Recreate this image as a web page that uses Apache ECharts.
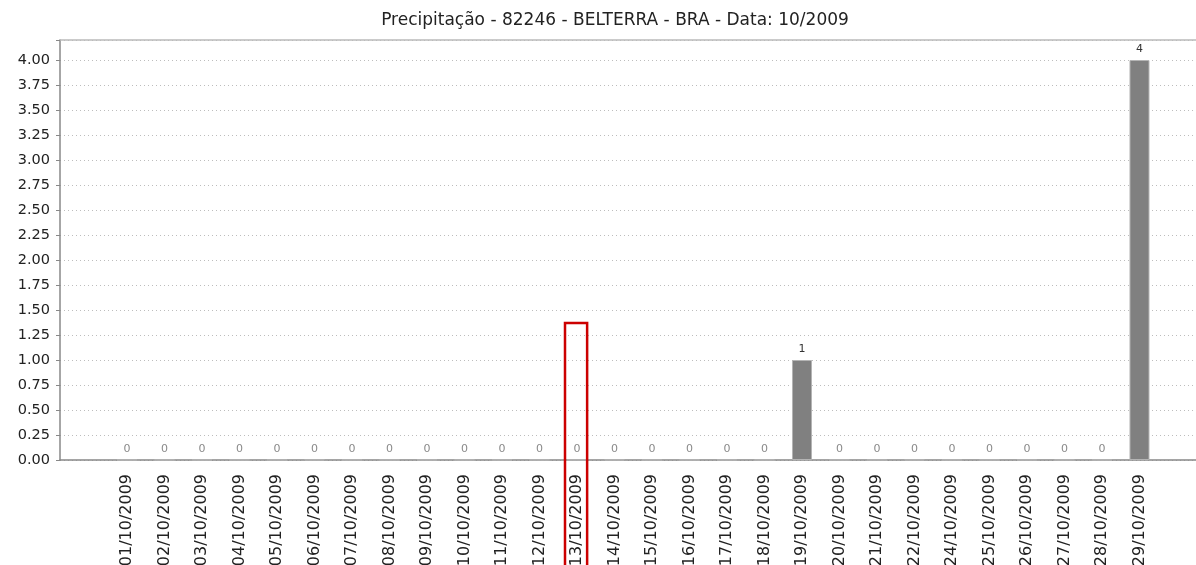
<!DOCTYPE html>
<html>
<head>
<meta charset="utf-8">
<script src="https://cdn.jsdelivr.net/npm/echarts@6/dist/echarts.min.js"></script>
<style>
  html, body { margin: 0; padding: 0; background: #fff; }
  #chart { width: 1196px; height: 565px; }
</style>
</head>
<body>
<div id="chart"></div>
<script>
// dias do mês (23/10 não aparece no original)
const dias = [
  '01/10/2009', '02/10/2009', '03/10/2009', '04/10/2009', '05/10/2009', '06/10/2009', '07/10/2009',
  '08/10/2009', '09/10/2009', '10/10/2009', '11/10/2009', '12/10/2009', '13/10/2009', '14/10/2009',
  '15/10/2009', '16/10/2009', '17/10/2009', '18/10/2009', '19/10/2009', '20/10/2009', '21/10/2009',
  '22/10/2009', '24/10/2009', '25/10/2009', '26/10/2009', '27/10/2009', '28/10/2009', '29/10/2009'
]
const precipitacao = [0, 0, 0, 0, 0, 0, 0, 0, 0, 0, 0, 0, 0, 0, 0, 0, 0, 0, 1, 0, 0, 0, 0, 0, 0, 0, 0, 4]
const yTicks = ['0.00', '0.25', '0.50', '0.75', '1.00', '1.25', '1.50', '1.75', '2.00',
  '2.25', '2.50', '2.75', '3.00', '3.25', '3.50', '3.75', '4.00']
const titulo = 'Precipitação - 82246 - BELTERRA - BRA - Data: 10/2009'
const diaDestacado = '13/10/2009'

const FONT = 'DejaVu Sans'
const chart = echarts.init(document.getElementById('chart'))

const barData = precipitacao.map((v, i) => ({
  value: [i, v],
  label: { color: v === 0 ? '#8a8a8a' : '#333' }
}))

chart.setOption({
  animation: false,
  title: {
    text: titulo,
    left: 610,
    top: 7,
    textAlign: 'center',
    textStyle: { fontFamily: FONT, fontSize: 17, fontWeight: 'normal', color: '#222' }
  },
  grid: { left: 60, right: 0, top: 40, bottom: 105, outerBoundsMode: 'none' },
  xAxis: [
    {
      type: 'value',
      min: -1.787,
      max: 28.507,
      splitLine: { show: false },
      axisLine: { onZero: false, lineStyle: { color: '#888', width: 1.5 } },
      axisTick: { show: false },
      axisLabel: {
        customValues: dias.map((d, i) => i),
        rotate: 90,
        margin: 14,
        fontFamily: FONT,
        fontSize: 16,
        color: '#222',
        formatter: v => dias[Math.round(v)] || ''
      }
    },
    {
      type: 'value',
      position: 'top',
      min: 0,
      max: 1,
      axisLine: { show: true, onZero: false, lineStyle: { color: '#bbb', width: 1.5 } },
      axisTick: { show: false },
      axisLabel: { show: false },
      splitLine: { show: false }
    }
  ],
  yAxis: {
    type: 'value',
    min: 0,
    max: 4.2,
    interval: 0.25,
    axisLine: { show: true, onZero: false, lineStyle: { color: '#888', width: 1.5 } },
    axisTick: { show: true, length: 4, lineStyle: { color: '#888' } },
    axisLabel: {
      margin: 10,
      fontFamily: FONT,
      fontSize: 14.5,
      color: '#222',
      formatter: v => {
        const idx = Math.round(v / 0.25)
        return Math.abs(idx * 0.25 - v) < 1e-6 ? yTicks[idx] : ''
      }
    },
    splitLine: {
      show: true,
      lineStyle: { color: '#bdbdbd', type: [1, 3], width: 1 }
    }
  },
  series: [{
    type: 'bar',
    data: barData,
    barWidth: 20,
    itemStyle: { color: '#808080', borderColor: '#b4b4b4', borderWidth: 1 },
    label: {
      show: true,
      position: 'top',
      distance: 5,
      fontFamily: FONT,
      fontSize: 11,
      formatter: p => String(p.value[1])
    }
  }]
})

// retângulo vermelho em volta do dia destacado
const idx = dias.indexOf(diaDestacado)
const p1 = chart.convertToPixel({ xAxisIndex: 0, yAxisIndex: 0 }, [idx - 0.32, 1.37])
const p2 = chart.convertToPixel({ xAxisIndex: 0, yAxisIndex: 0 }, [idx + 0.27, 0])
chart.setOption({
  graphic: [{
    type: 'rect',
    shape: { x: p1[0], y: p1[1], width: p2[0] - p1[0], height: 565 - p1[1] + 5 },
    style: { fill: 'none', stroke: '#cc0000', lineWidth: 2.5 },
    z: 100
  }]
})
</script>
</body>
</html>
